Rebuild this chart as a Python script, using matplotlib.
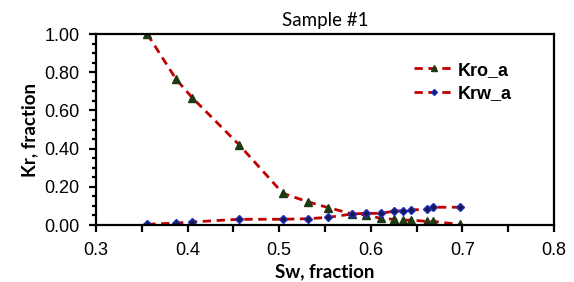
import numpy as np
import matplotlib
matplotlib.use('Agg')
import matplotlib.pyplot as plt
from matplotlib.ticker import MultipleLocator

# datos
sw_o = [0.356, 0.3875, 0.405, 0.4565, 0.504, 0.531, 0.5535, 0.58, 0.595, 0.611, 0.625, 0.635, 0.644, 0.661, 0.668, 0.6975]
kro = [1.00, 0.763, 0.667, 0.419, 0.166, 0.122, 0.091, 0.058, 0.052, 0.035, 0.030, 0.025, 0.026, 0.019, 0.019, 0.003]
sw_w = [0.356, 0.3875, 0.405, 0.4565, 0.504, 0.531, 0.5535, 0.58, 0.595, 0.611, 0.625, 0.635, 0.644, 0.661, 0.668, 0.6975]
krw = [0.004, 0.010, 0.016, 0.030, 0.030, 0.033, 0.040, 0.058, 0.061, 0.061, 0.072, 0.075, 0.079, 0.082, 0.093, 0.093]

fig = plt.figure(figsize=(5.74, 2.82), dpi=100)
ax = fig.add_axes([0.1672, 0.2021, 0.7978, 0.6773])

ax.plot(sw_o, kro, ls='--', color='#c00000', lw=2, dashes=(3, 2),
        marker='^', ms=6, mfc='#1e3a14', mec='#1e3a14', label='Kro_a')
ax.plot(sw_w, krw, ls='--', color='#c00000', lw=2, dashes=(3, 2),
        marker='D', ms=4, mfc='#1a1a4a', mec='#1f2fbf', mew=1, label='Krw_a')

ax.set_xlim(0.3, 0.8)
ax.set_ylim(0, 1.0)
ax.xaxis.set_minor_locator(MultipleLocator(0.05))
ax.yaxis.set_minor_locator(MultipleLocator(0.05))
ax.set_xticks(np.arange(0.3, 0.81, 0.1))
ax.set_xticklabels([f'{v:.1f}' for v in np.arange(0.3, 0.81, 0.1)])
ax.set_yticks(np.arange(0, 1.01, 0.2))
ax.set_yticklabels([f'{v:.2f}' for v in np.arange(0, 1.01, 0.2)])

for s in ax.spines.values():
    s.set_linewidth(1.6)
ax.tick_params(which='major', direction='out', length=5, width=1.6,
               labelsize=13, pad=7)
ax.tick_params(axis='x', which='minor', direction='out', length=5, width=1.6)
ax.tick_params(axis='y', which='minor', direction='out', length=3, width=1.6)
for t in ax.get_xticklabels() + ax.get_yticklabels():
    t.set_family('Liberation Sans')

ax.set_xlabel('Sw, fraction', fontsize=13.5, fontweight='bold', family='Lato', labelpad=3)
ax.set_ylabel('Kr, fraction', fontsize=13.5, fontweight='bold', family='Lato', labelpad=4)
ax.set_title('Sample #1', fontsize=13.5, family='Lato', pad=6)

leg = ax.legend(loc='upper left', bbox_to_anchor=(0.695, 0.855), frameon=False,
                prop={'family': 'Liberation Sans', 'weight': 'bold', 'size': 13},
                handlelength=2.2, handletextpad=0.2, labelspacing=0.37,
                borderpad=0, borderaxespad=0, markerscale=0.75)

fig.savefig('out.png', dpi=100)
